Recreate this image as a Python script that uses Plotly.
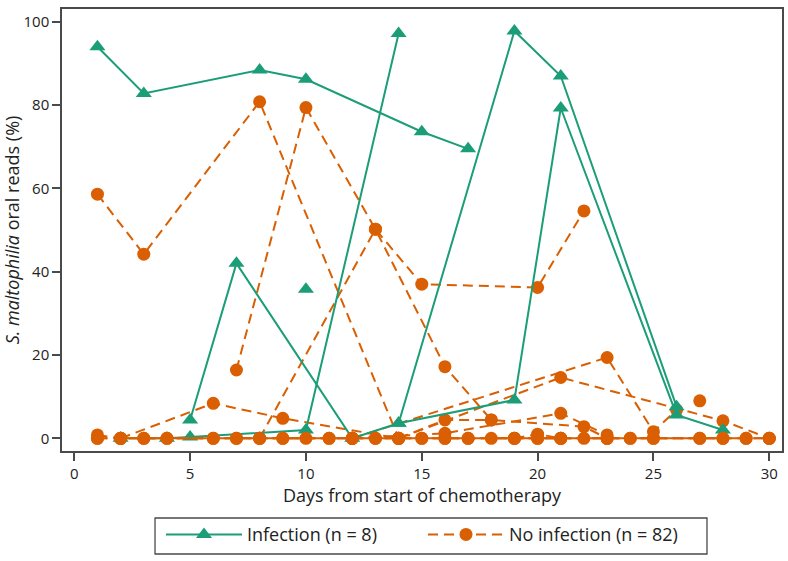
import plotly.graph_objects as go

# ---------------- Data ----------------
# Infection patients (green triangles, solid lines)
inf1_days = [1, 3, 8, 10, 15, 17]
inf1_vals = [94.0, 82.8, 88.4, 86.2, 73.6, 69.5]
inf2_days = [2, 4, 5, 10, 14]
inf2_vals = [0.0, 0.0, 0.3, 2.0, 97.2]
inf3_days = [5, 7, 12, 14, 19, 21, 26, 28]
inf3_vals = [4.4, 42.0, 0.0, 3.6, 9.2, 79.3, 5.6, 2.0]
inf4_days = [14, 19, 21, 26]
inf4_vals = [3.6, 97.8, 87.0, 7.6]
inf5_days = [10]
inf5_vals = [35.8]

# No-infection patients (orange circles, dashed lines)
no1_days = [1, 3, 8, 14]
no1_vals = [58.6, 44.2, 80.8, 0.0]
no2_days = [7, 10, 13, 16, 18, 22, 23]
no2_vals = [16.4, 79.4, 50.2, 17.2, 4.4, 2.8, 0.0]
no3_days = [8, 13, 15, 20, 22]
no3_vals = [0.0, 50.2, 37.0, 36.2, 54.6]
no4_days = [2, 6, 9, 14, 21, 28, 30]
no4_vals = [0.0, 8.4, 4.8, 0.0, 14.6, 4.2, 0.0]
no5_days = [12, 23, 25, 26]
no5_vals = [0.0, 19.4, 1.6, 6.8]
no6_days = [12, 16, 21, 23]
no6_vals = [0.0, 1.2, 6.0, 0.8]
no7_days = [14, 16, 18]
no7_vals = [0.0, 4.4, 4.4]
no8_days = [27]
no8_vals = [9.0]
no9_days = [1, 2]
no9_vals = [0.8, 0.0]
no10_days = [19, 20, 21]
no10_vals = [0.0, 1.0, 0.0]

# Patients that stay at zero (baseline)
zero_a_days = [1, 2, 3, 4, 6, 7, 8, 9, 10, 11, 12, 13, 14, 15, 16, 17, 18, 19, 20, 21, 22, 23, 24, 25, 27, 28, 29, 30]
zero_a_vals = [0, 0, 0, 0, 0, 0, 0, 0, 0, 0, 0, 0, 0, 0, 0, 0, 0, 0, 0, 0, 0, 0, 0, 0, 0, 0, 0, 0]
zero_b_days = [2, 4, 7, 11, 15, 19, 24, 29]
zero_b_vals = [0, 0, 0, 0, 0, 0, 0, 0]
zero_c_days = [3, 6, 9, 13, 17, 21, 25, 28]
zero_c_vals = [0, 0, 0, 0, 0, 0, 0, 0]
zero_d_days = [1, 8, 12, 16, 20, 23, 27, 30]
zero_d_vals = [0, 0, 0, 0, 0, 0, 0, 0]

x_ticks = [0, 5, 10, 15, 20, 25, 30]
y_ticks = [0, 20, 40, 60, 80, 100]

GREEN = "#1b9e77"
ORANGE = "#d95f02"

inf_series = [(inf1_days, inf1_vals), (inf2_days, inf2_vals), (inf3_days, inf3_vals),
              (inf4_days, inf4_vals), (inf5_days, inf5_vals)]
no_series = [(no1_days, no1_vals), (no2_days, no2_vals), (no3_days, no3_vals),
             (no4_days, no4_vals), (no5_days, no5_vals), (no6_days, no6_vals),
             (no7_days, no7_vals), (no8_days, no8_vals), (no9_days, no9_vals),
             (no10_days, no10_vals)]
zero_series = [(zero_a_days, zero_a_vals), (zero_b_days, zero_b_vals),
               (zero_c_days, zero_c_vals), (zero_d_days, zero_d_vals)]

fig = go.Figure()

def add_no(days, vals, show):
    fig.add_trace(go.Scatter(
        x=days, y=vals, mode="lines+markers",
        line=dict(color=ORANGE, width=2, dash="10px,6px"),
        marker=dict(symbol="circle", size=13, color=ORANGE),
        name="No infection (n = 82)", legendgroup="no", legendrank=2,
        showlegend=show, hoverinfo="skip"))

first = True
for d, v in no_series:
    add_no(d, v, first)
    first = False

for i, (d, v) in enumerate(inf_series):
    fig.add_trace(go.Scatter(
        x=d, y=v, mode="lines+markers",
        line=dict(color=GREEN, width=2),
        marker=dict(symbol="triangle-up", size=14, color=GREEN),
        name="Infection (n = 8)", legendgroup="inf", legendrank=1,
        showlegend=(i == 0), hoverinfo="skip"))

for d, v in zero_series:
    add_no(d, v, False)

axis_common = dict(showline=True, mirror=True, linecolor="#4a4a4a", linewidth=1.5,
                   ticks="outside", ticklen=8, tickwidth=1.5, tickcolor="#4a4a4a",
                   showgrid=False, zeroline=False, automargin=False,
                   tickfont=dict(size=15, color="#222"))

# legend frame drawn as a shape (paper coordinates)
fig.add_shape(type="rect", xref="paper", yref="paper",
              x0=0.1292, x1=0.8958, y0=-0.233, y1=-0.1516,
              line=dict(color="#4a4a4a", width=1.3), fillcolor="rgba(0,0,0,0)",
              layer="above")

fig.update_layout(
    width=788, height=561,
    margin=dict(l=62, r=6, t=9, b=110, autoexpand=False),
    plot_bgcolor="white", paper_bgcolor="white",
    font=dict(family="Open Sans", size=15, color="#222"),
    xaxis=dict(range=[-0.53, 30.55], tickvals=x_ticks,
               title=dict(text="Days from start of chemotherapy", standoff=4),
               **axis_common),
    yaxis=dict(range=[-3.05, 103.07], tickvals=y_ticks,
               title=dict(text="<i>S. maltophilia</i> oral reads (%)", standoff=0),
               **axis_common),
    legend=dict(orientation="h", x=0.1375, xanchor="left", y=-0.1475, yanchor="top",
                borderwidth=0, itemwidth=76,
                entrywidth=171, entrywidthmode="pixels",
                font=dict(size=18, color="#222"), bgcolor="rgba(0,0,0,0)",
                tracegroupgap=0),
)

fig.write_html("out.html", config={"displayModeBar": False},
               post_script="document.body.style.margin='0px';")
